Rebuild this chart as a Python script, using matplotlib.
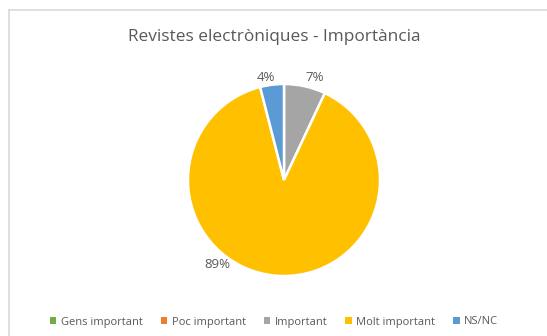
import matplotlib
matplotlib.use("Agg")
import matplotlib.pyplot as plt
from matplotlib.lines import Line2D
from matplotlib.patches import Patch
import numpy as np

# ── Data ────────────────────────────────────────────────────────────────
categories = ["Gens important", "Poc important", "Important", "Molt important", "NS/NC"]
values = [0, 0, 7, 89, 4]
colors = ["#70AD47", "#ED7D31", "#A5A5A5", "#FFC000", "#5B9BD5"]
title = "Revistes electròniques - Importància"

W, H = 547, 336
TEXT = "#595959"
plt.rcParams["font.family"] = ["Open Sans", "DejaVu Sans"]

fig = plt.figure(figsize=(W / 100, H / 100), dpi=100)

# chart frame: only top and left edges fall inside the canvas
fx, fy = 8.5 / W, 1 - 9.5 / H
fig.lines.append(Line2D([fx, 1.05], [fy, fy], transform=fig.transFigure,
                        color="#D9D9D9", linewidth=1.2))
fig.lines.append(Line2D([fx, fx], [fy, -0.05], transform=fig.transFigure,
                        color="#D9D9D9", linewidth=1.2))

# pie axes: centre (284, 180) px, radius 96 px
cx, cy, r = 284, 180, 96
ax = fig.add_axes([(cx - r) / W, 1 - (cy + r) / H, 2 * r / W, 2 * r / H])

wedges, _ = ax.pie(values, colors=colors, startangle=90, counterclock=False, radius=1,
                   wedgeprops=dict(edgecolor="white", linewidth=1.8))
ax.set_xlim(-1, 1)
ax.set_ylim(-1, 1)
ax.set_aspect("equal")
ax.axis("off")

# data labels ("best fit" placement, nudged off each wedge's mid angle)
nudge = {"Important": (-4, 1.11), "Molt important": (None, 1.12), "NS/NC": (3, 1.08)}
for w, v, name in zip(wedges, values, categories):
    if v == 0:
        continue
    mid = (w.theta1 + w.theta2) / 2
    d_ang, dist = nudge[name]
    ang = np.deg2rad(231.5 if d_ang is None else mid + d_ang)
    ax.text(dist * np.cos(ang), dist * np.sin(ang), f"{v}%", ha="center", va="center",
            fontsize=9.5, color=TEXT, clip_on=False)

fig.text(274 / W, 1 - 37 / H, title, ha="center", va="center", fontsize=12.4, color=TEXT)

handles = [Patch(facecolor=c, edgecolor="none") for c in colors]
fig.legend(handles, categories, loc="center", bbox_to_anchor=(274 / W, 1 - 322 / H), ncol=5,
           frameon=False, fontsize=8, labelcolor=TEXT, handlelength=0.6, handleheight=0.6,
           handletextpad=0.4, columnspacing=1.6)

fig.savefig("out.png", dpi=100)
